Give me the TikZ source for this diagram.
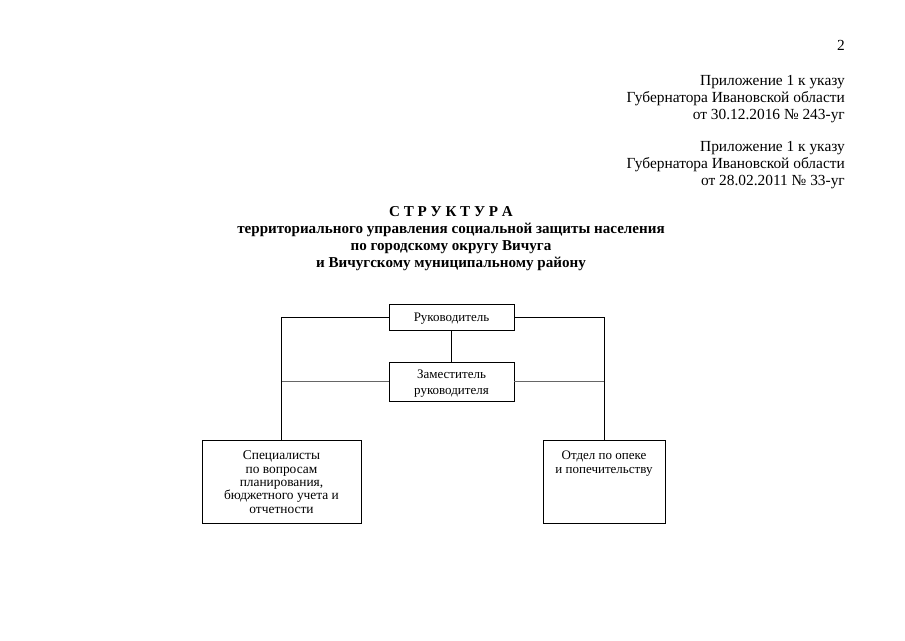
\documentclass[tikz,border=0pt]{standalone}
\usepackage{fontspec}
\setmainfont{Liberation Serif}
\begin{document}
\begin{tikzpicture}[x=1pt,y=-1pt,
  hdr/.style={anchor=east,align=right,font=\fontsize{15.4}{16.6}\selectfont,inner sep=0pt},
  ttl/.style={align=center,font=\fontsize{15.1}{17}\selectfont\bfseries,inner sep=0pt},
  box/.style={draw,line width=0.8pt,inner sep=0pt},
  btxt/.style={align=center,font=\fontsize{13}{14}\selectfont,inner sep=0pt},
  ln/.style={line width=0.8pt},
  lnl/.style={line width=0.8pt,black!60}]
\useasboundingbox (0,0) rectangle (905,640);
\node[hdr] (pg) at (845,45) {2};
\node[hdr] (app1) at (845,99) {Приложение 1 к указу\\Губернатора Ивановской области\\от 30.12.2016 № 243-уг};
\node[hdr] (app2) at (845,165) {Приложение 1 к указу\\Губернатора Ивановской области\\от 28.02.2011 № 33-уг};
\node[ttl] (title) at (451,239) {С Т Р У К Т У Р А\\территориального управления социальной защиты населения\\по городскому округу Вичуга\\и Вичугскому муниципальному району};

\node[box,minimum width=125,minimum height=26] (boss) at (451.5,317) {};
\node[btxt] (bosst) at ([yshift=-2]boss.center) {Руководитель};
\node[box,minimum width=125,minimum height=39] (dep) at (451.5,381.5) {};
\node[btxt,font=\fontsize{13}{16}\selectfont] (dept) at ([yshift=-2]dep.center) {Заместитель\\руководителя};
\node[box,minimum width=159,minimum height=83] (lbox) at (281.5,481.5) {};
\node[btxt,anchor=north,font=\fontsize{13.4}{13.4}\selectfont] (lboxt) at ([yshift=-11]lbox.north) {Специалисты\\по вопросам\\планирования,\\бюджетного учета и\\отчетности};
\node[box,minimum width=122,minimum height=83] (rbox) at (604,481.5) {};
\node[btxt,anchor=north] (rboxt) at ([yshift=-11]rbox.north) {Отдел по опеке\\и попечительству};

\draw[ln] (boss.west) -| (lbox.north);
\draw[ln] (boss.east) -| (rbox.north);
\draw[ln] (boss.south) -- (dep.north);
\draw[lnl] (dep.west) -- (dep.west -| lbox.north);
\draw[lnl] (dep.east) -- (dep.east -| rbox.north);
\end{tikzpicture}
\end{document}
